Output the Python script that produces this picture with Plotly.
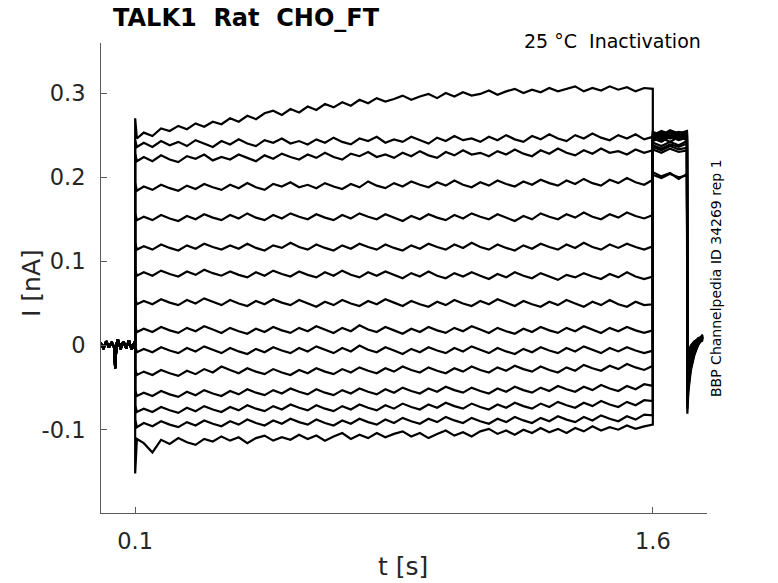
import plotly.graph_objects as go

# holding period before the step (same for all sweeps)
pre_t = [0.000, 0.008, 0.016, 0.024, 0.032, 0.040, 0.042, 0.046, 0.050, 0.058,
         0.066, 0.074, 0.082, 0.090, 0.098, 0.100]
pre_i = [0.003, -0.004, 0.005, -0.002, 0.004, -0.003, -0.027, 0.002, 0.007, -0.004,
         0.005, -0.003, 0.006, -0.005, 0.004, 0.000]

# conditioning step 0.1 - 1.6 s (onset, then every 25 ms)
step_t = [0.100, 0.105,
          0.125, 0.150, 0.175, 0.200, 0.225, 0.250, 0.275, 0.300, 0.325, 0.350,
          0.375, 0.400, 0.425, 0.450, 0.475, 0.500, 0.525, 0.550, 0.575, 0.600,
          0.625, 0.650, 0.675, 0.700, 0.725, 0.750, 0.775, 0.800, 0.825, 0.850,
          0.875, 0.900, 0.925, 0.950, 0.975, 1.000, 1.025, 1.050, 1.075, 1.100,
          1.125, 1.150, 1.175, 1.200, 1.225, 1.250, 1.275, 1.300, 1.325, 1.350,
          1.375, 1.400, 1.425, 1.450, 1.475, 1.500, 1.525, 1.550, 1.575, 1.600]

sweep01 = [0.270, 0.246,
           0.253, 0.249, 0.258, 0.255, 0.261, 0.257, 0.264, 0.260, 0.266, 0.263,
           0.270, 0.266, 0.273, 0.269, 0.276, 0.279, 0.274, 0.281, 0.277, 0.284,
           0.280, 0.287, 0.283, 0.289, 0.285, 0.292, 0.288, 0.294, 0.290, 0.293,
           0.297, 0.292, 0.296, 0.299, 0.294, 0.300, 0.296, 0.301, 0.297, 0.299,
           0.303, 0.298, 0.302, 0.305, 0.300, 0.304, 0.301, 0.306, 0.302, 0.305,
           0.308, 0.302, 0.306, 0.303, 0.308, 0.304, 0.307, 0.302, 0.306, 0.305]
sweep02 = [0.244, 0.236,
           0.241, 0.236, 0.243, 0.238, 0.242, 0.237, 0.244, 0.240, 0.236, 0.243,
           0.239, 0.245, 0.240, 0.237, 0.244, 0.241, 0.246, 0.240, 0.243, 0.239,
           0.245, 0.241, 0.247, 0.242, 0.239, 0.246, 0.243, 0.248, 0.241, 0.245,
           0.242, 0.248, 0.244, 0.240, 0.247, 0.243, 0.249, 0.244, 0.246, 0.242,
           0.248, 0.244, 0.250, 0.245, 0.242, 0.249, 0.245, 0.251, 0.246, 0.243,
           0.250, 0.246, 0.252, 0.247, 0.244, 0.250, 0.246, 0.251, 0.245, 0.248]
sweep03 = [0.228, 0.219,
           0.224, 0.219, 0.226, 0.221, 0.218, 0.225, 0.222, 0.227, 0.220, 0.224,
           0.221, 0.227, 0.223, 0.219, 0.226, 0.222, 0.228, 0.224, 0.221, 0.227,
           0.223, 0.229, 0.224, 0.221, 0.228, 0.225, 0.230, 0.224, 0.227, 0.223,
           0.229, 0.225, 0.231, 0.226, 0.223, 0.230, 0.226, 0.232, 0.227, 0.229,
           0.225, 0.231, 0.227, 0.233, 0.228, 0.225, 0.232, 0.228, 0.234, 0.229,
           0.226, 0.232, 0.228, 0.234, 0.229, 0.231, 0.227, 0.233, 0.229, 0.232]
sweep04 = [0.193, 0.184,
           0.189, 0.185, 0.191, 0.187, 0.184, 0.190, 0.186, 0.192, 0.188, 0.185,
           0.191, 0.187, 0.193, 0.188, 0.185, 0.192, 0.189, 0.194, 0.188, 0.191,
           0.187, 0.193, 0.189, 0.186, 0.192, 0.188, 0.195, 0.190, 0.187, 0.193,
           0.189, 0.195, 0.191, 0.188, 0.194, 0.190, 0.196, 0.191, 0.188, 0.194,
           0.190, 0.196, 0.192, 0.189, 0.195, 0.191, 0.197, 0.193, 0.190, 0.196,
           0.192, 0.198, 0.193, 0.190, 0.197, 0.193, 0.199, 0.194, 0.191, 0.197]
sweep05 = [0.157, 0.149,
           0.153, 0.149, 0.155, 0.151, 0.148, 0.154, 0.150, 0.156, 0.152, 0.149,
           0.155, 0.151, 0.157, 0.152, 0.149, 0.155, 0.151, 0.157, 0.153, 0.150,
           0.156, 0.152, 0.149, 0.155, 0.151, 0.157, 0.153, 0.150, 0.156, 0.152,
           0.148, 0.154, 0.150, 0.156, 0.152, 0.149, 0.155, 0.151, 0.157, 0.153,
           0.150, 0.156, 0.152, 0.148, 0.154, 0.150, 0.157, 0.153, 0.150, 0.156,
           0.152, 0.158, 0.153, 0.150, 0.156, 0.152, 0.158, 0.154, 0.151, 0.155]
sweep06 = [0.122, 0.114,
           0.118, 0.114, 0.120, 0.116, 0.113, 0.119, 0.115, 0.121, 0.117, 0.114,
           0.119, 0.115, 0.121, 0.116, 0.113, 0.119, 0.116, 0.122, 0.117, 0.114,
           0.120, 0.116, 0.113, 0.119, 0.115, 0.121, 0.117, 0.114, 0.120, 0.116,
           0.113, 0.119, 0.115, 0.121, 0.117, 0.114, 0.120, 0.116, 0.122, 0.117,
           0.114, 0.120, 0.116, 0.113, 0.119, 0.115, 0.121, 0.117, 0.114, 0.120,
           0.116, 0.122, 0.117, 0.114, 0.120, 0.116, 0.121, 0.117, 0.114, 0.118]
sweep07 = [0.090, 0.083,
           0.087, 0.083, 0.089, 0.085, 0.082, 0.088, 0.084, 0.090, 0.086, 0.083,
           0.088, 0.084, 0.081, 0.087, 0.083, 0.089, 0.085, 0.082, 0.088, 0.084,
           0.081, 0.087, 0.083, 0.089, 0.084, 0.081, 0.087, 0.083, 0.088, 0.084,
           0.080, 0.086, 0.082, 0.088, 0.083, 0.080, 0.086, 0.082, 0.087, 0.083,
           0.079, 0.085, 0.081, 0.087, 0.083, 0.080, 0.086, 0.082, 0.078, 0.084,
           0.081, 0.086, 0.082, 0.079, 0.085, 0.081, 0.087, 0.082, 0.079, 0.082]
sweep08 = [0.056, 0.049,
           0.053, 0.049, 0.055, 0.051, 0.048, 0.054, 0.050, 0.056, 0.052, 0.048,
           0.054, 0.050, 0.047, 0.053, 0.049, 0.055, 0.051, 0.048, 0.054, 0.050,
           0.046, 0.052, 0.048, 0.054, 0.050, 0.047, 0.053, 0.049, 0.055, 0.051,
           0.047, 0.053, 0.049, 0.046, 0.052, 0.048, 0.054, 0.050, 0.047, 0.053,
           0.049, 0.055, 0.051, 0.047, 0.053, 0.049, 0.046, 0.052, 0.048, 0.054,
           0.050, 0.046, 0.052, 0.048, 0.054, 0.049, 0.046, 0.052, 0.048, 0.049]
sweep09 = [0.023, 0.016,
           0.020, 0.016, 0.022, 0.018, 0.015, 0.021, 0.017, 0.023, 0.019, 0.015,
           0.021, 0.017, 0.014, 0.020, 0.016, 0.022, 0.018, 0.015, 0.021, 0.017,
           0.023, 0.019, 0.015, 0.021, 0.017, 0.024, 0.019, 0.016, 0.022, 0.018,
           0.014, 0.020, 0.016, 0.022, 0.018, 0.015, 0.021, 0.017, 0.023, 0.019,
           0.015, 0.021, 0.017, 0.014, 0.020, 0.016, 0.022, 0.018, 0.015, 0.021,
           0.017, 0.023, 0.019, 0.015, 0.021, 0.017, 0.022, 0.018, 0.015, 0.018]
sweep10 = [-0.001, -0.008,
           -0.004, -0.008, -0.002, -0.006, -0.009, -0.003, -0.007, -0.001, -0.005, -0.009,
           -0.003, -0.007, -0.010, -0.004, -0.008, -0.002, -0.006, -0.009, -0.003, -0.007,
           -0.001, -0.005, -0.009, -0.003, -0.007, 0.000, -0.005, -0.008, -0.002, -0.006,
           -0.010, -0.004, -0.008, -0.002, -0.006, -0.009, -0.003, -0.007, -0.001, -0.005,
           -0.009, -0.003, -0.007, -0.010, -0.004, -0.008, -0.002, -0.006, -0.009, -0.003,
           -0.007, -0.001, -0.005, -0.009, -0.003, -0.007, -0.002, -0.006, -0.009, -0.006]
sweep11 = [-0.028, -0.035,
           -0.031, -0.035, -0.029, -0.033, -0.036, -0.030, -0.034, -0.028, -0.032, -0.025,
           -0.029, -0.033, -0.027, -0.031, -0.034, -0.028, -0.032, -0.035, -0.029, -0.033,
           -0.027, -0.031, -0.034, -0.028, -0.032, -0.026, -0.030, -0.033, -0.027, -0.031,
           -0.025, -0.029, -0.032, -0.026, -0.030, -0.033, -0.027, -0.031, -0.025, -0.029,
           -0.032, -0.026, -0.030, -0.024, -0.028, -0.031, -0.025, -0.029, -0.032, -0.026,
           -0.030, -0.023, -0.027, -0.030, -0.024, -0.028, -0.022, -0.026, -0.029, -0.024]
sweep12 = [-0.053, -0.060,
           -0.056, -0.060, -0.054, -0.058, -0.061, -0.055, -0.059, -0.053, -0.057, -0.060,
           -0.054, -0.058, -0.052, -0.056, -0.059, -0.053, -0.057, -0.051, -0.055, -0.058,
           -0.052, -0.056, -0.059, -0.053, -0.057, -0.051, -0.055, -0.058, -0.052, -0.056,
           -0.050, -0.054, -0.057, -0.051, -0.055, -0.049, -0.053, -0.056, -0.050, -0.054,
           -0.057, -0.051, -0.055, -0.049, -0.053, -0.056, -0.050, -0.054, -0.048, -0.052,
           -0.055, -0.049, -0.053, -0.047, -0.051, -0.054, -0.048, -0.052, -0.046, -0.048]
sweep13 = [-0.071, -0.079,
           -0.075, -0.079, -0.073, -0.077, -0.080, -0.074, -0.078, -0.072, -0.076, -0.079,
           -0.073, -0.077, -0.071, -0.075, -0.078, -0.072, -0.076, -0.070, -0.074, -0.077,
           -0.071, -0.075, -0.078, -0.072, -0.076, -0.070, -0.074, -0.077, -0.071, -0.075,
           -0.069, -0.073, -0.076, -0.070, -0.074, -0.068, -0.072, -0.075, -0.069, -0.073,
           -0.076, -0.070, -0.074, -0.068, -0.072, -0.075, -0.069, -0.073, -0.067, -0.071,
           -0.074, -0.068, -0.072, -0.066, -0.070, -0.073, -0.067, -0.071, -0.065, -0.066]
sweep14 = [-0.088, -0.097,
           -0.092, -0.096, -0.090, -0.094, -0.097, -0.091, -0.095, -0.089, -0.093, -0.096,
           -0.090, -0.094, -0.088, -0.092, -0.095, -0.089, -0.093, -0.087, -0.091, -0.094,
           -0.088, -0.092, -0.095, -0.089, -0.093, -0.087, -0.091, -0.094, -0.088, -0.092,
           -0.086, -0.090, -0.093, -0.087, -0.091, -0.085, -0.089, -0.092, -0.086, -0.090,
           -0.093, -0.087, -0.091, -0.085, -0.089, -0.092, -0.086, -0.090, -0.084, -0.088,
           -0.091, -0.085, -0.089, -0.083, -0.087, -0.090, -0.084, -0.088, -0.082, -0.083]
sweep15 = [-0.152, -0.111,
           -0.116, -0.127, -0.112, -0.117, -0.110, -0.115, -0.118, -0.111, -0.114, -0.108,
           -0.113, -0.109, -0.116, -0.110, -0.107, -0.113, -0.109, -0.112, -0.106, -0.111,
           -0.107, -0.113, -0.108, -0.104, -0.111, -0.106, -0.110, -0.104, -0.109, -0.105,
           -0.102, -0.108, -0.104, -0.110, -0.105, -0.101, -0.107, -0.103, -0.108, -0.102,
           -0.099, -0.105, -0.101, -0.106, -0.100, -0.104, -0.098, -0.103, -0.099, -0.104,
           -0.098, -0.102, -0.096, -0.101, -0.097, -0.100, -0.095, -0.099, -0.096, -0.094]

# test pulse 1.6 - 1.7 s
test_t = [1.600, 1.625, 1.650, 1.675, 1.699]
test01 = [0.203, 0.199, 0.204, 0.200, 0.202]
test02 = [0.206, 0.201, 0.205, 0.198, 0.204]
test03 = [0.233, 0.229, 0.234, 0.230, 0.232]
test04 = [0.236, 0.232, 0.237, 0.233, 0.235]
test05 = [0.238, 0.234, 0.239, 0.236, 0.240]
test06 = [0.241, 0.237, 0.242, 0.238, 0.243]
test07 = [0.243, 0.247, 0.242, 0.248, 0.244]
test08 = [0.246, 0.242, 0.248, 0.244, 0.247]
test09 = [0.248, 0.244, 0.250, 0.246, 0.249]
test10 = [0.245, 0.250, 0.246, 0.251, 0.247]
test11 = [0.250, 0.246, 0.252, 0.248, 0.251]
test12 = [0.248, 0.253, 0.249, 0.252, 0.250]
test13 = [0.252, 0.248, 0.254, 0.250, 0.253]
test14 = [0.250, 0.255, 0.251, 0.254, 0.252]
test15 = [0.254, 0.250, 0.256, 0.252, 0.255]

# back to holding
tail_t = [1.700, 1.703, 1.710, 1.720, 1.732, 1.745]
tail01 = [-0.081, -0.055, -0.030, -0.012, 0.002, 0.008]
tail02 = [-0.075, -0.050, -0.027, -0.010, 0.003, 0.007]
tail03 = [-0.068, -0.046, -0.024, -0.009, 0.001, 0.009]
tail04 = [-0.062, -0.042, -0.021, -0.007, 0.004, 0.006]
tail05 = [-0.057, -0.038, -0.019, -0.006, 0.002, 0.010]
tail06 = [-0.052, -0.035, -0.017, -0.005, 0.005, 0.007]
tail07 = [-0.047, -0.031, -0.015, -0.003, 0.003, 0.011]
tail08 = [-0.043, -0.028, -0.013, -0.002, 0.006, 0.008]
tail09 = [-0.039, -0.025, -0.011, -0.001, 0.004, 0.010]
tail10 = [-0.035, -0.022, -0.009, 0.000, 0.007, 0.009]
tail11 = [-0.031, -0.019, -0.007, 0.001, 0.005, 0.011]
tail12 = [-0.028, -0.016, -0.005, 0.002, 0.008, 0.008]
tail13 = [-0.025, -0.013, -0.003, 0.003, 0.006, 0.012]
tail14 = [-0.022, -0.010, -0.002, 0.004, 0.009, 0.010]
tail15 = [-0.019, -0.008, 0.000, 0.005, 0.007, 0.013]

steps = [sweep01, sweep02, sweep03, sweep04, sweep05, sweep06, sweep07, sweep08,
         sweep09, sweep10, sweep11, sweep12, sweep13, sweep14, sweep15]
tests = [test01, test02, test03, test04, test05, test06, test07, test08,
         test09, test10, test11, test12, test13, test14, test15]
tails = [tail01, tail02, tail03, tail04, tail05, tail06, tail07, tail08,
         tail09, tail10, tail11, tail12, tail13, tail14, tail15]

fig = go.Figure()
for s, te, ta in zip(steps, tests, tails):
    fig.add_trace(go.Scatter(
        x=pre_t + step_t + test_t + tail_t,
        y=pre_i + s + te + ta,
        mode="lines",
        line=dict(color="black", width=2.2),
        hoverinfo="skip",
        showlegend=False,
    ))

W, H = 778, 583
L, T = 101, 43
PW, PH = 606, 470

axis_col = "#5a5a5a"
fig.update_xaxes(range=[0.001, 1.757], tickvals=[0.1, 1.6], ticktext=["0.1", "1.6"],
                 ticks="inside", ticklen=6, tickcolor=axis_col, showline=True,
                 linecolor=axis_col, linewidth=1, showgrid=False, zeroline=False,
                 tickfont=dict(size=22.5, color="#262626"), ticklabelstandoff=8)
fig.update_yaxes(range=[-0.199, 0.3595], tickvals=[-0.1, 0, 0.1, 0.2, 0.3],
                 ticktext=["-0.1", "0", "0.1", "0.2", "0.3"],
                 ticks="inside", ticklen=6, tickcolor=axis_col, showline=True,
                 linecolor=axis_col, linewidth=1, showgrid=False, zeroline=False,
                 tickfont=dict(size=22.5, color="#262626"), ticklabelstandoff=10)


def px(x):
    return (x - L) / PW


def py(y):
    return (T + PH - y) / PH


fig.update_layout(
    width=W, height=H,
    margin=dict(l=L, r=W - L - PW, t=T, b=H - T - PH),
    plot_bgcolor="white", paper_bgcolor="white",
    font=dict(family="DejaVu Sans", color="#262626"),
    title=dict(text="<b>TALK1\u00a0 Rat\u00a0 CHO_FT</b>", x=px(113), xref="paper",
               xanchor="left", y=1 - 18 / H, yanchor="middle",
               font=dict(size=24, color="black")),
    annotations=[
        dict(text="25 \u00b0C\u00a0 Inactivation", x=px(703), y=py(41),
             xref="paper", yref="paper", xanchor="right", yanchor="middle",
             showarrow=False, font=dict(size=19, color="black")),
        dict(text="BBP Channelpedia ID 34269 rep 1", x=px(716), y=py(278),
             xref="paper", yref="paper", xanchor="center", yanchor="middle", textangle=-90,
             showarrow=False, font=dict(size=14, color="black")),
        dict(text="t [s]", x=px(403), y=py(566),
             xref="paper", yref="paper", xanchor="center", yanchor="middle",
             showarrow=False, font=dict(size=25, color="#262626")),
        dict(text="I [nA]", x=px(31), y=py(283),
             xref="paper", yref="paper", xanchor="center", yanchor="middle", textangle=-90,
             showarrow=False, font=dict(size=25, color="#262626")),
    ],
)

# drop the default 8 px page margin so the figure fills the window
fig.write_html("out.html", config={"displayModeBar": False},
               post_script="document.body.style.margin='0';")
